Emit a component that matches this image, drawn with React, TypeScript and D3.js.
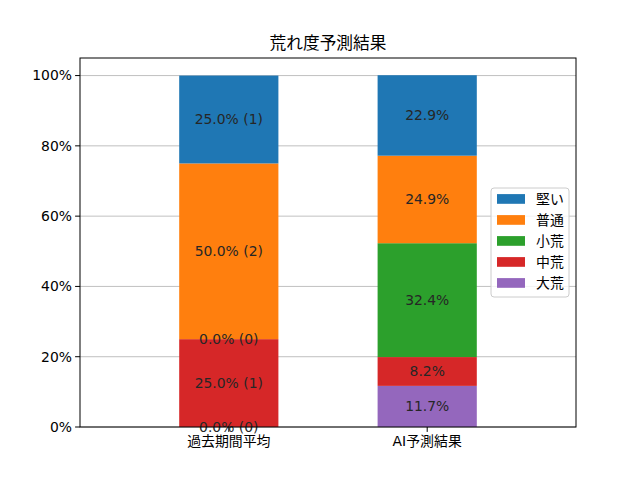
import * as d3 from "d3";

// categories (x axis) and stacking order from bottom to top
const groups = ["過去期間平均", "AI予測結果"];
const levels = ["大荒", "中荒", "小荒", "普通", "堅い"];
const colors = ["#9467bd", "#d62728", "#2ca02c", "#ff7f0e", "#1f77b4"];

// percentages per level (bottom to top)
const pastPct = [0.0, 25.0, 0.0, 50.0, 25.0];
const pastCount = [0, 1, 0, 2, 1];
const aiPct = [11.7, 8.2, 32.4, 24.9, 22.9];

const yTicks = [0, 20, 40, 60, 80, 100];

const font = "'DejaVu Sans', 'Noto Sans CJK JP', sans-serif";

export default function App() {
  const width = 640;
  const height = 480;
  const margin = { top: 58, right: 64, bottom: 53, left: 80 };

  const xScale = d3
    .scaleLinear()
    .domain([-0.75, 1.75])
    .range([margin.left, width - margin.right]);

  const yScale = d3
    .scaleLinear()
    .domain([0, 105])
    .range([height - margin.bottom, margin.top]);

  const barWidth = xScale(0.5) - xScale(0);

  const series = [
    { pct: pastPct, label: (i: number) => `${pastPct[i].toFixed(1)}% (${pastCount[i]})` },
    { pct: aiPct, label: (i: number) => `${aiPct[i].toFixed(1)}%` },
  ];

  const segments = series.flatMap((s, g) => {
    let base = 0;
    return s.pct.map((v, i) => {
      const seg = { g, i, y0: base, y1: base + v, text: s.label(i) };
      base += v;
      return seg;
    });
  });

  const legendOrder = [...levels.keys()].reverse();
  const legendX = 491;
  const legendY = 188;

  return (
    <svg
      width={width}
      height={height}
      style={{ position: "absolute", left: 0, top: 0, background: "white" }}
      fontFamily={font}
    >
      {/* grid */}
      {yTicks.map((t) => (
        <line
          key={t}
          x1={margin.left}
          x2={width - margin.right}
          y1={yScale(t)}
          y2={yScale(t)}
          stroke="#b0b0b0"
          strokeWidth={0.8}
        />
      ))}

      {/* bars */}
      {segments.map((s, k) => (
        <rect
          key={k}
          x={xScale(s.g) - barWidth / 2}
          y={yScale(s.y1)}
          width={barWidth}
          height={yScale(s.y0) - yScale(s.y1)}
          fill={colors[s.i]}
        />
      ))}

      {/* bar labels */}
      {segments.map((s, k) => (
        <text
          key={k}
          x={xScale(s.g)}
          y={yScale((s.y0 + s.y1) / 2)}
          dy="0.35em"
          textAnchor="middle"
          fontSize={13.9}
          fill="#262626"
        >
          {s.text}
        </text>
      ))}

      {/* axes frame */}
      <rect
        x={margin.left}
        y={margin.top}
        width={width - margin.left - margin.right}
        height={height - margin.top - margin.bottom}
        fill="none"
        stroke="black"
        strokeWidth={1}
      />

      {/* y axis */}
      {yTicks.map((t) => (
        <g key={t} transform={`translate(${margin.left}, ${yScale(t)})`}>
          <line x2={-4.9} stroke="black" />
          <text x={-8} dy="0.35em" textAnchor="end" fontSize={13.9}>
            {t}%
          </text>
        </g>
      ))}

      {/* x axis */}
      {groups.map((g, i) => (
        <g key={g} transform={`translate(${xScale(i)}, ${height - margin.bottom})`}>
          <line y2={4.9} stroke="black" />
          <text y={8} dy="0.8em" textAnchor="middle" fontSize={13.9}>
            {g}
          </text>
        </g>
      ))}

      {/* title */}
      <text
        x={(margin.left + width - margin.right) / 2}
        y={margin.top - 9}
        textAnchor="middle"
        fontSize={16.7}
      >
        荒れ度予測結果
      </text>

      {/* legend */}
      <g transform={`translate(${legendX}, ${legendY})`}>
        <rect
          width={78}
          height={109}
          rx={3}
          fill="white"
          fillOpacity={0.8}
          stroke="#cccccc"
        />
        {legendOrder.map((li, r) => (
          <g key={li} transform={`translate(6, ${11 + r * 21})`}>
            <rect x={0} y={-4.9} width={28} height={9.7} fill={colors[li]} />
            <text x={39} dy="0.35em" fontSize={13.9}>
              {levels[li]}
            </text>
          </g>
        ))}
      </g>
    </svg>
  );
}
